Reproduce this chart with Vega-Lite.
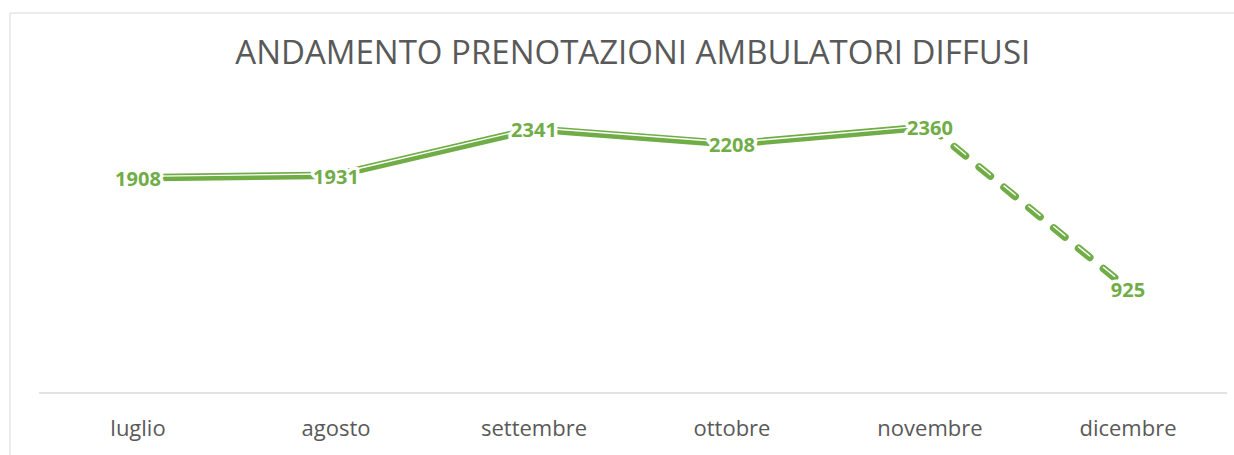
{
  "$schema": "https://vega.github.io/schema/vega-lite/v6.json",
  "autosize": {"type": "none"},
  "padding": {"left": 9.5, "top": 12.5, "right": 0, "bottom": -10},
  "width": 1224.5,
  "height": 452.5,
  "background": "white",
  "title": {
    "text": "ANDAMENTO PRENOTAZIONI AMBULATORI DIFFUSI",
    "font": "Open Sans",
    "fontSize": 33,
    "fontWeight": "normal",
    "color": "#595959",
    "anchor": "middle",
    "frame": "group",
    "baseline": "alphabetic",
    "offset": -84,
    "dx": 11
  },
  "data": {
    "values": [
      {"month": "luglio", "value": 1908},
      {"month": "agosto", "value": 1931},
      {"month": "settembre", "value": 2341},
      {"month": "ottobre", "value": 2208},
      {"month": "novembre", "value": 2360},
      {"month": "dicembre", "value": 925}
    ]
  },
  "layer": [
    {
      "mark": {"type": "rule", "color": "#d9d9d9", "strokeWidth": 1.5},
      "encoding": {
        "x": {"field": "month", "type": "nominal", "bandPosition": 0,
              "scale": {"type": "band", "domain": ["luglio", "agosto", "settembre", "ottobre", "novembre", "dicembre"], "paddingInner": 0, "paddingOuter": 0.0922, "align": 0.808},
              "axis": {"title": null}},
        "x2": {"field": "month", "bandPosition": 1},
        "y": {"datum": 0, "type": "quantitative", "scale": {"domain": [-638, 3373], "nice": false, "zero": false}, "axis": null}
      }
    },
    {
      "transform": [{"filter": "datum.month != 'dicembre'"}],
      "mark": {"type": "line", "color": "#70AD47", "strokeWidth": 7.5, "strokeJoin": "round", "strokeCap": "round"},
      "encoding": {
        "x": {"field": "month", "type": "nominal", "bandPosition": 0.5,
              "scale": {"type": "band", "domain": ["luglio", "agosto", "settembre", "ottobre", "novembre", "dicembre"], "paddingInner": 0, "paddingOuter": 0.0922, "align": 0.808},
              "axis": {"title": null}},
        "y": {"field": "value", "type": "quantitative", "scale": {"domain": [-638, 3373], "nice": false, "zero": false}, "axis": null},
        "order": {"value": null}
      }
    },
    {
      "transform": [{"filter": "datum.month != 'dicembre'"}],
      "mark": {"type": "line", "color": "white", "strokeWidth": 1.4, "strokeJoin": "round", "strokeCap": "butt", "yOffset": -1.4},
      "encoding": {
        "x": {"field": "month", "type": "nominal", "bandPosition": 0.5,
              "scale": {"type": "band", "domain": ["luglio", "agosto", "settembre", "ottobre", "novembre", "dicembre"], "paddingInner": 0, "paddingOuter": 0.0922, "align": 0.808},
              "axis": {"title": null}},
        "y": {"field": "value", "type": "quantitative", "scale": {"domain": [-638, 3373], "nice": false, "zero": false}, "axis": null},
        "order": {"value": null}
      }
    },
    {
      "transform": [{"filter": "datum.month == 'novembre' || datum.month == 'dicembre'"}],
      "mark": {"type": "line", "color": "#70AD47", "strokeWidth": 7.5, "strokeCap": "round", "strokeDash": [14.5, 17.6], "strokeDashOffset": 0.7},
      "encoding": {
        "x": {"field": "month", "type": "nominal", "bandPosition": 0.5,
              "scale": {"type": "band", "domain": ["luglio", "agosto", "settembre", "ottobre", "novembre", "dicembre"], "paddingInner": 0, "paddingOuter": 0.0922, "align": 0.808},
              "axis": {"title": null}},
        "y": {"field": "value", "type": "quantitative", "scale": {"domain": [-638, 3373], "nice": false, "zero": false}, "axis": null},
        "order": {"value": null}
      }
    },
    {
      "transform": [{"filter": "datum.month == 'novembre' || datum.month == 'dicembre'"}],
      "mark": {"type": "line", "color": "white", "strokeWidth": 1.4, "strokeCap": "round", "strokeDash": [14.5, 17.6], "strokeDashOffset": 0.7, "yOffset": -1.4},
      "encoding": {
        "x": {"field": "month", "type": "nominal", "bandPosition": 0.5,
              "scale": {"type": "band", "domain": ["luglio", "agosto", "settembre", "ottobre", "novembre", "dicembre"], "paddingInner": 0, "paddingOuter": 0.0922, "align": 0.808},
              "axis": {"title": null}},
        "y": {"field": "value", "type": "quantitative", "scale": {"domain": [-638, 3373], "nice": false, "zero": false}, "axis": null},
        "order": {"value": null}
      }
    },
    {
      "mark": {"type": "text", "font": "Open Sans", "fontSize": 20, "fontWeight": "bold", "color": "white", "stroke": "white", "strokeWidth": 7, "strokeJoin": "round", "align": "center", "baseline": "middle", "dy": 2.5},
      "encoding": {
        "x": {"field": "month", "type": "nominal", "bandPosition": 0.5,
              "scale": {"type": "band", "domain": ["luglio", "agosto", "settembre", "ottobre", "novembre", "dicembre"], "paddingInner": 0, "paddingOuter": 0.0922, "align": 0.808},
              "axis": {"title": null}},
        "y": {"field": "value", "type": "quantitative", "scale": {"domain": [-638, 3373], "nice": false, "zero": false}, "axis": null},
        "text": {"field": "value", "type": "quantitative"}
      }
    },
    {
      "mark": {"type": "text", "font": "Open Sans", "fontSize": 20, "fontWeight": "bold", "color": "#70AD47", "align": "center", "baseline": "middle", "dy": 2.5},
      "encoding": {
        "x": {"field": "month", "type": "nominal", "bandPosition": 0.5,
              "scale": {"type": "band", "domain": ["luglio", "agosto", "settembre", "ottobre", "novembre", "dicembre"], "paddingInner": 0, "paddingOuter": 0.0922, "align": 0.808},
              "axis": {"title": null}},
        "y": {"field": "value", "type": "quantitative", "scale": {"domain": [-638, 3373], "nice": false, "zero": false}, "axis": null},
        "text": {"field": "value", "type": "quantitative"}
      }
    }
  ],
  "config": {
    "view": {"stroke": "#d9d9d9", "strokeWidth": 1},
    "axisX": {
      "domain": false,
      "ticks": false,
      "grid": false,
      "labelAngle": 0,
      "labelFont": "Open Sans",
      "labelFontSize": 22,
      "labelColor": "#595959",
      "labelBaseline": "middle",
      "labelPadding": 35,
      "offset": -72
    }
  }
}
